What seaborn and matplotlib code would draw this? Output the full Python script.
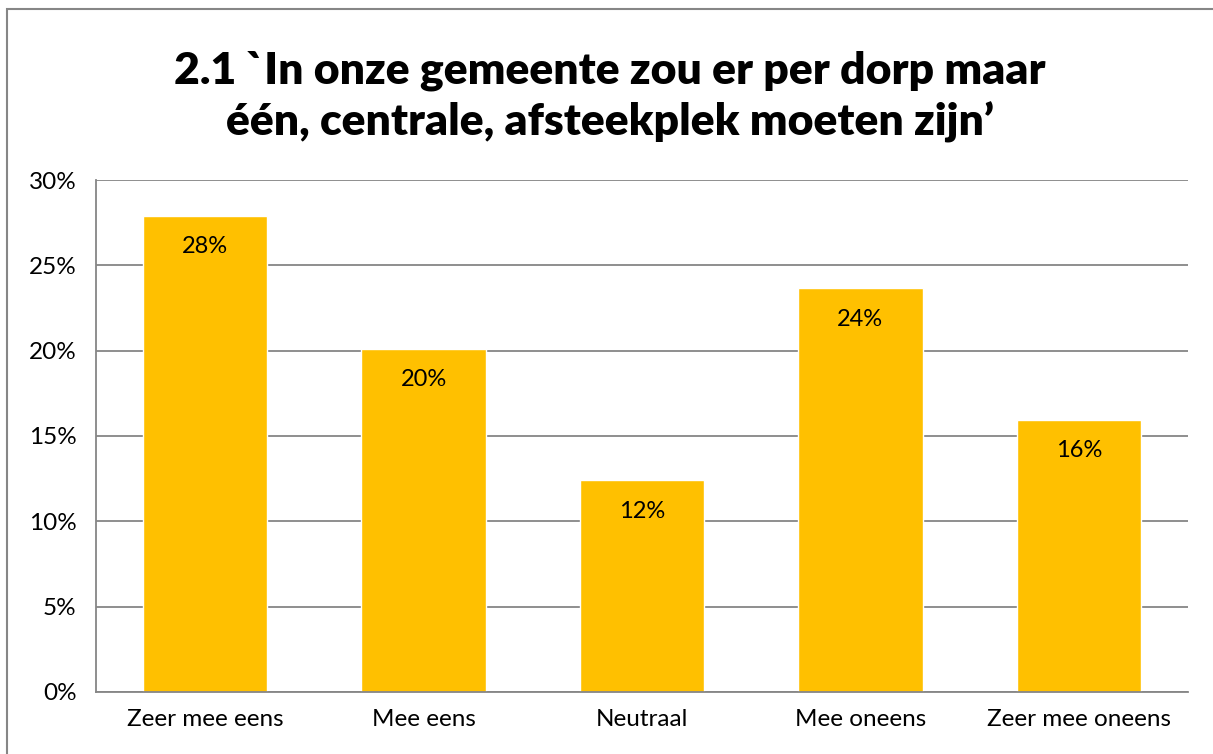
import matplotlib
matplotlib.use('Agg')
import matplotlib.pyplot as plt
import seaborn as sns
from matplotlib.patches import Rectangle
from matplotlib.ticker import FuncFormatter

# Data
categories = ['Zeer mee eens', 'Mee eens', 'Neutraal', 'Mee oneens', 'Zeer mee oneens']
values = [27.9, 20.1, 12.4, 23.65, 15.95]
labels = ['28%', '20%', '12%', '24%', '16%']
yticks = [0, 5, 10, 15, 20, 25, 30]

sns.set_style('white')
plt.rcParams['font.family'] = ['Lato', 'DejaVu Sans']
plt.rcParams['text.color'] = 'black'

fig = plt.figure(figsize=(12.13, 7.54), dpi=100)
ax = fig.add_axes([96 / 1213, 1 - 692 / 754, 1092 / 1213, 512 / 754])

sns.barplot(x=categories, y=values, color='#FFC000', saturation=1, width=0.57, ax=ax)

ax.set_ylim(0, 30)
ax.set_yticks(yticks)
ax.yaxis.set_major_formatter(FuncFormatter(lambda v, p: f'{v:.0f}%'))
ax.grid(axis='y', color='#868686', linewidth=1.3)
ax.set_axisbelow(True)
for s in ['top', 'right']:
    ax.spines[s].set_visible(False)
for s in ['left', 'bottom']:
    ax.spines[s].set_color('#868686')
    ax.spines[s].set_linewidth(1.3)
ax.tick_params(axis='both', length=0, labelsize=17.5, labelcolor='black', pad=14)
ax.tick_params(axis='x', pad=12)

for i, (v, lab) in enumerate(zip(values, labels)):
    ax.annotate(lab, (i, v), xytext=(0, -31), textcoords='offset pixels',
                ha='center', va='center', fontsize=17, color='black')

fig.text(0.503, 1 - 97 / 754,
         "2.1 `In onze gemeente zou er per dorp maar\néén, centrale, afsteekplek moeten zijn’",
         ha='center', va='center', fontsize=32, fontweight='heavy', linespacing=1.3,
         color='black')

# outer chart border
fig.patches.append(Rectangle((7 / 1213, -0.05), 1.1, 1 - 9 / 754 + 0.05,
                             transform=fig.transFigure, fill=False,
                             edgecolor='#868686', linewidth=1.5))

fig.savefig('out.png', dpi=100)
